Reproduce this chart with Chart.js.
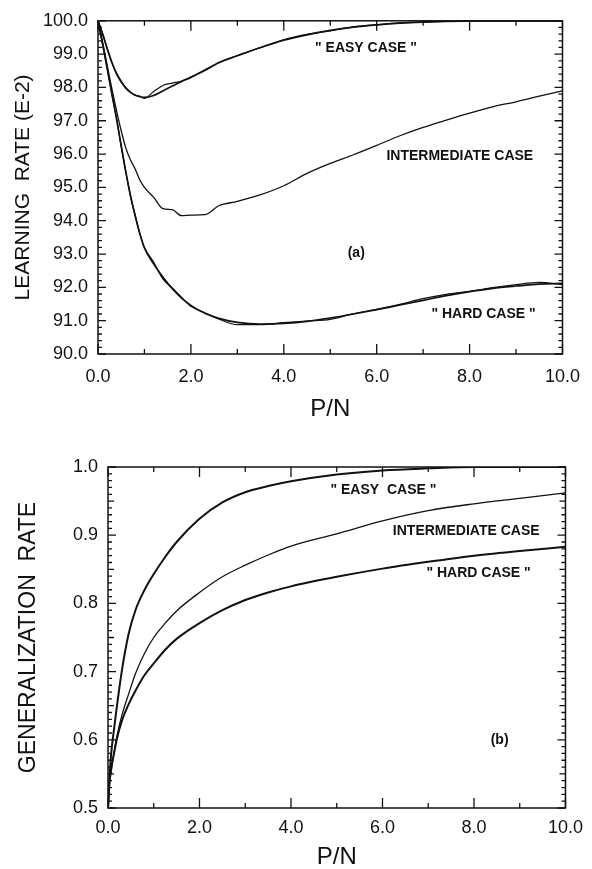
<!DOCTYPE html>
<html>
<head>
<meta charset="utf-8">
<script src="https://cdn.jsdelivr.net/npm/chart.js@4.4.1/dist/chart.umd.min.js"></script>
<style>
  html, body { margin: 0; padding: 0; background: #fff; }
  #wrap { position: relative; width: 592px; height: 869px; }
  #learningChart { position: absolute; left: 0; top: 0; }
  #generalChart { position: absolute; left: 0; top: 435px; }
</style>
</head>
<body>
<div id="wrap">
  <canvas id="learningChart" width="592" height="435"></canvas>
  <canvas id="generalChart" width="592" height="434"></canvas>
</div>
<script>
// (a) learning rate (units of E-2)
const learnPN = [0, 0.1, 0.2, 0.3, 0.4, 0.5, 0.6, 0.7, 0.8, 0.9, 1.0, 1.2, 1.4, 1.6, 1.8, 2.0, 2.3, 2.6, 3.0, 3.5, 4.0, 4.5, 5.0, 5.5, 6.0, 6.5, 7.0, 7.5, 8.0, 8.5, 9.0, 9.5, 10.0];
const learnEasy = [100, 99.6, 99.15, 98.75, 98.42, 98.18, 97.98, 97.85, 97.77, 97.72, 97.7, 97.76, 97.9, 98.04, 98.18, 98.3, 98.52, 98.74, 98.95, 99.2, 99.42, 99.58, 99.71, 99.81, 99.88, 99.93, 99.96, 99.98, 99.99, 100, 100, 100, 100];
const learnEasySim = [100, 99.62, 99.17, 98.73, 98.4, 98.16, 97.99, 97.86, 97.76, 97.74, 97.67, 97.88, 98.06, 98.13, 98.19, 98.32, 98.5, 98.75, 98.96, 99.19, 99.43, 99.59, 99.7, 99.82, 99.88, 99.94, 99.96, 99.99, 100, 100, 100, 100, 100];
const learnInter = [100, 99.35, 98.65, 97.95, 97.3, 96.7, 96.18, 95.82, 95.55, 95.22, 95.0, 94.7, 94.36, 94.33, 94.15, 94.17, 94.18, 94.45, 94.58, 94.78, 95.05, 95.42, 95.72, 95.98, 96.26, 96.55, 96.8, 97.02, 97.23, 97.42, 97.57, 97.74, 97.9];
const learnHard = [100, 99.3, 98.55, 97.8, 97.05, 96.25, 95.45, 94.75, 94.15, 93.62, 93.18, 92.7, 92.3, 91.96, 91.68, 91.46, 91.22, 91.07, 90.95, 90.9, 90.92, 90.98, 91.08, 91.2, 91.33, 91.47, 91.61, 91.75, 91.87, 91.97, 92.04, 92.1, 92.12];
const learnHardSim = [100, 99.28, 98.57, 97.78, 97.07, 96.22, 95.47, 94.73, 94.17, 93.6, 93.2, 92.75, 92.25, 91.98, 91.7, 91.43, 91.24, 91.05, 90.88, 90.88, 90.94, 90.99, 91.04, 91.21, 91.34, 91.49, 91.66, 91.79, 91.88, 91.99, 92.08, 92.15, 92.08];
const learnTicks = [90, 91, 92, 93, 94, 95, 96, 97, 98, 99, 100];

// (b) generalization rate
const genPN = [0, 0.03, 0.07, 0.14, 0.2, 0.3, 0.45, 0.6, 0.8, 1.0, 1.25, 1.5, 2.0, 2.5, 3.0, 3.5, 4.0, 5.0, 6.0, 7.0, 8.0, 9.0, 10.0];
const genEasy = [0.5, 0.54, 0.58, 0.62, 0.652, 0.70, 0.755, 0.79, 0.82, 0.843, 0.868, 0.89, 0.924, 0.948, 0.963, 0.972, 0.979, 0.989, 0.995, 0.998, 1.0, 1.0, 1.0];
const genInter = [0.5, 0.535, 0.555, 0.585, 0.607, 0.635, 0.667, 0.697, 0.727, 0.75, 0.771, 0.789, 0.816, 0.839, 0.856, 0.871, 0.884, 0.902, 0.921, 0.936, 0.946, 0.954, 0.962];
const genHard = [0.5, 0.535, 0.557, 0.583, 0.603, 0.627, 0.652, 0.672, 0.695, 0.712, 0.732, 0.748, 0.771, 0.79, 0.805, 0.816, 0.825, 0.839, 0.851, 0.861, 0.87, 0.877, 0.883];
const genTicks = [0.5, 0.6, 0.7, 0.8, 0.9, 1.0];

const pnTicks = [0, 2, 4, 6, 8, 10];

const FONT = '"Liberation Sans", Arial, Helvetica, sans-serif';
const INK = '#111';

function pts(xs, ys) {
    return xs.map((x, i) => ({ x: x, y: ys[i] }));
}

function line(xs, ys, width) {
    return {
        data: pts(xs, ys),
        borderColor: INK,
        borderWidth: width,
        pointRadius: 0,
        fill: false,
        cubicInterpolationMode: 'monotone'
    };
}

// box around the plot, inward ticks on all four sides, and the curve notes
const frameTicks = {
    id: 'frameTicks',
    afterDatasetsDraw(chart, args, opts) {
        const { ctx, chartArea: a, scales: { x, y } } = chart;
        ctx.save();
        ctx.strokeStyle = INK;
        ctx.lineWidth = 1.5;
        ctx.strokeRect(a.left, a.top, a.right - a.left, a.bottom - a.top);

        ctx.lineWidth = 1.3;
        ctx.beginPath();
        opts.xTicks.forEach(([step, len]) => {
            const n = Math.round((x.max - x.min) / step);
            for (let i = 0; i <= n; i++) {
                const px = x.getPixelForValue(x.min + i * step);
                ctx.moveTo(px, a.bottom); ctx.lineTo(px, a.bottom - len);
                ctx.moveTo(px, a.top); ctx.lineTo(px, a.top + len);
            }
        });
        opts.yTicks.forEach(([step, len]) => {
            const n = Math.round((y.max - y.min) / step);
            for (let i = 0; i <= n; i++) {
                const py = y.getPixelForValue(y.min + i * step);
                ctx.moveTo(a.left, py); ctx.lineTo(a.left + len, py);
                ctx.moveTo(a.right, py); ctx.lineTo(a.right - len, py);
            }
        });
        ctx.stroke();

        ctx.fillStyle = INK;
        ctx.font = 'bold 14px ' + FONT;
        ctx.textAlign = 'center';
        ctx.textBaseline = 'middle';
        opts.notes.forEach(n => {
            ctx.fillText(n.text, x.getPixelForValue(n.x), y.getPixelForValue(n.y));
        });
        ctx.restore();
    }
};

function makeChart(id, cfg) {
    return new Chart(document.getElementById(id), {
        type: 'line',
        data: { datasets: cfg.datasets },
        options: {
            responsive: false,
            animation: false,
            events: [],
            layout: { padding: cfg.padding },
            plugins: {
                legend: { display: false },
                tooltip: { enabled: false },
                frameTicks: { xTicks: cfg.xTicks, yTicks: cfg.yTicks, notes: cfg.notes }
            },
            scales: {
                x: {
                    type: 'linear',
                    min: 0,
                    max: 10,
                    afterBuildTicks: s => { s.ticks = pnTicks.map(v => ({ value: v })); },
                    afterFit: s => { s.height = cfg.xHeight; },
                    grid: { display: false, drawTicks: false },
                    border: { display: false },
                    ticks: {
                        padding: cfg.xPad,
                        color: INK,
                        font: { family: FONT, size: 18 },
                        maxRotation: 0,
                        callback: v => v.toFixed(1)
                    },
                    title: {
                        display: true,
                        text: 'P/N',
                        color: INK,
                        font: { family: FONT, size: 24, lineHeight: cfg.xTitleLH },
                        padding: { top: 0, bottom: cfg.xTitlePad }
                    }
                },
                y: {
                    type: 'linear',
                    min: cfg.yMin,
                    max: cfg.yMax,
                    afterBuildTicks: s => { s.ticks = cfg.yTickVals.map(v => ({ value: v })); },
                    afterFit: s => { s.width = cfg.yWidth; },
                    grid: { display: false, drawTicks: false },
                    border: { display: false },
                    ticks: {
                        padding: 10,
                        color: INK,
                        font: { family: FONT, size: 18 },
                        callback: v => v.toFixed(1)
                    },
                    title: {
                        display: true,
                        text: cfg.yTitle,
                        color: INK,
                        font: { family: FONT, size: cfg.yTitleSize },
                        padding: { top: cfg.yTitlePad, bottom: 0 }
                    }
                }
            }
        },
        plugins: [frameTicks]
    });
}

makeChart('learningChart', {
    datasets: [
        line(learnPN, learnEasy, 1.7),
        line(learnPN, learnEasySim, 1.2),
        line(learnPN, learnInter, 1.3),
        line(learnPN, learnHard, 1.7),
        line(learnPN, learnHardSim, 1.2)
    ],
    padding: { top: 12, right: 28, left: 0, bottom: 0 },
    xHeight: 81, xPad: 12, xTitleLH: 1.2, xTitlePad: 11,
    yMin: 90, yMax: 100, yTickVals: learnTicks, yWidth: 98,
    yTitle: 'LEARNING  RATE (E-2)', yTitleSize: 21, yTitlePad: 11,
    xTicks: [[1, 5], [2, 10]],
    yTicks: [[0.2, 4], [1, 8]],
    notes: [
        { text: '" EASY CASE "', x: 5.77, y: 99.18 },
        { text: 'INTERMEDIATE CASE', x: 7.79, y: 95.94 },
        { text: '(a)', x: 5.56, y: 93.04 },
        { text: '" HARD CASE "', x: 8.3, y: 91.2 }
    ]
});

makeChart('generalChart', {
    datasets: [
        line(genPN, genEasy, 2.0),
        line(genPN, genInter, 1.3),
        line(genPN, genHard, 2.0)
    ],
    padding: { top: 32, right: 22, left: 0, bottom: 0 },
    xHeight: 61, xPad: 9, xTitleLH: 1.0, xTitlePad: 0,
    yMin: 0.5, yMax: 1.0, yTickVals: genTicks, yWidth: 108,
    yTitle: 'GENERALIZATION  RATE', yTitleSize: 23, yTitlePad: 15,
    xTicks: [[1, 5], [2, 10]],
    yTicks: [[0.01, 4], [0.05, 6], [0.1, 8]],
    notes: [
        { text: '" EASY  CASE "', x: 6.02, y: 0.966 },
        { text: 'INTERMEDIATE CASE', x: 7.83, y: 0.906 },
        { text: '" HARD CASE "', x: 8.1, y: 0.845 },
        { text: '(b)', x: 8.56, y: 0.6 }
    ]
});
</script>
</body>
</html>
